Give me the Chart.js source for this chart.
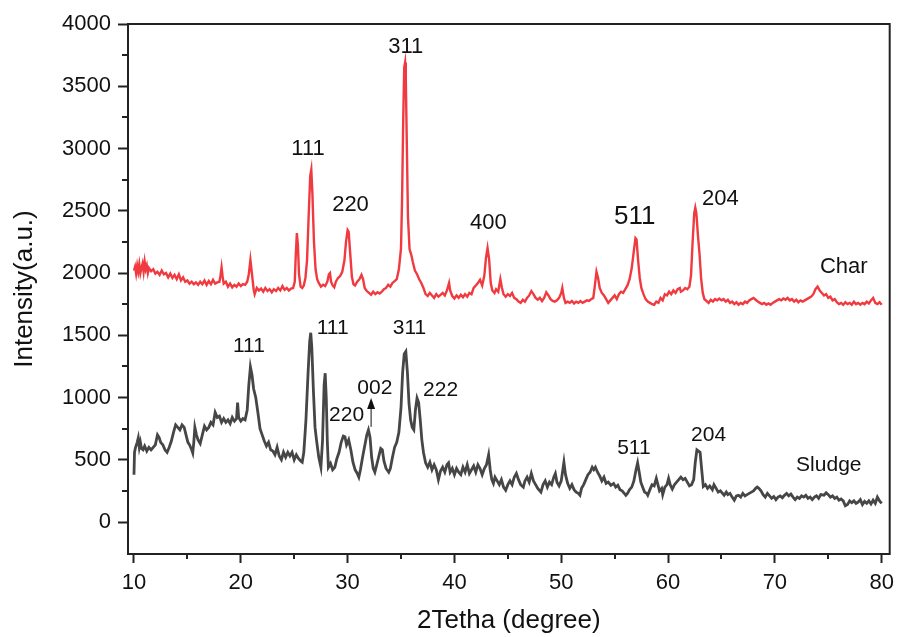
<!DOCTYPE html>
<html>
<head>
<meta charset="utf-8">
<script src="https://cdn.jsdelivr.net/npm/chart.js@4.4.1/dist/chart.umd.min.js"></script>
<style>
  html, body { margin: 0; padding: 0; background: #fff; }
  #wrap { width: 901px; height: 637px; }
</style>
</head>
<body>
<div id="wrap"><canvas id="xrd"></canvas></div>
<script>
// axis ticks
const xTicks = [10, 20, 30, 40, 50, 60, 70, 80];
const xMinor = [15, 25, 35, 45, 55, 65, 75];
const yTicks = [0, 500, 1000, 1500, 2000, 2500, 3000, 3500, 4000];
const yMinor = [250, 750, 1250, 1750, 2250, 2750, 3250, 3750];

// Char pattern (2theta, intensity)
const charX = [10.0,10.1,10.2,10.3,10.4,10.5,10.6,10.7,10.8,10.9,11.0,11.1,11.2,11.3,11.4,11.6,11.8,12.0,12.2,12.4,12.6,12.8,13.0,13.2,13.4,13.6,13.8,14.0,14.2,14.4,14.6,14.8,15.0,15.2,15.4,15.6,15.8,16.0,16.2,16.4,16.6,16.8,17.0,17.2,17.4,17.6,17.8,18.0,18.1,18.2,18.3,18.4,18.6,18.8,19.0,19.2,19.4,19.6,19.8,20.0,20.2,20.4,20.6,20.75,20.9,21.05,21.2,21.3,21.5,21.7,21.9,22.1,22.3,22.5,22.7,22.9,23.1,23.3,23.5,23.7,23.9,24.1,24.3,24.5,24.7,24.9,25.05,25.15,25.25,25.35,25.45,25.6,25.75,25.9,26.05,26.2,26.35,26.5,26.6,26.7,26.85,27.0,27.15,27.3,27.5,27.7,27.9,28.1,28.25,28.35,28.45,28.6,28.75,28.9,29.1,29.3,29.5,29.7,29.85,30.0,30.1,30.25,30.4,30.55,30.7,30.9,31.1,31.3,31.45,31.6,31.8,32.0,32.2,32.4,32.6,32.8,33.0,33.2,33.4,33.6,33.8,34.0,34.2,34.4,34.6,34.8,35.0,35.1,35.2,35.3,35.38,35.45,35.55,35.65,35.8,35.95,36.1,36.3,36.5,36.7,36.9,37.1,37.3,37.5,37.7,37.9,38.1,38.3,38.5,38.7,38.9,39.1,39.3,39.5,39.6,39.8,40.0,40.2,40.4,40.6,40.8,41.0,41.2,41.4,41.6,41.8,42.0,42.2,42.4,42.6,42.8,42.95,43.1,43.25,43.4,43.55,43.75,43.9,44.1,44.3,44.45,44.6,44.8,45.0,45.2,45.4,45.6,45.8,46.0,46.2,46.4,46.6,46.8,47.0,47.2,47.4,47.6,47.8,48.0,48.2,48.4,48.6,48.8,49.0,49.2,49.4,49.6,49.8,50.0,50.1,50.25,50.4,50.6,50.8,51.0,51.2,51.4,51.6,51.8,52.0,52.2,52.4,52.6,52.8,53.0,53.15,53.3,53.45,53.6,53.8,54.0,54.2,54.4,54.6,54.8,55.0,55.2,55.4,55.6,55.8,56.0,56.2,56.4,56.6,56.8,56.95,57.05,57.2,57.35,57.5,57.7,57.9,58.1,58.3,58.5,58.7,58.9,59.1,59.3,59.5,59.7,59.9,60.1,60.3,60.5,60.7,60.9,61.1,61.2,61.4,61.6,61.8,62.0,62.15,62.3,62.45,62.55,62.65,62.8,62.95,63.1,63.25,63.4,63.6,63.8,64.0,64.2,64.4,64.6,64.8,65.0,65.2,65.4,65.6,65.8,66.0,66.2,66.4,66.6,66.8,67.0,67.2,67.4,67.6,67.8,68.0,68.2,68.4,68.6,68.8,69.0,69.2,69.4,69.6,69.8,70.0,70.2,70.4,70.6,70.8,71.0,71.2,71.4,71.6,71.8,72.0,72.2,72.4,72.6,72.8,73.0,73.2,73.4,73.6,73.8,74.0,74.2,74.4,74.6,74.8,75.0,75.2,75.4,75.6,75.8,76.0,76.2,76.4,76.6,76.8,77.0,77.2,77.4,77.6,77.8,78.0,78.2,78.4,78.6,78.8,79.0,79.2,79.4,79.6,79.8,80.0];
const charY = [2020,2050,1995,2060,2010,2070,2000,2040,2075,2010,2090,2030,2060,2000,2040,2015,2030,1995,2010,1985,2020,1990,2000,1965,1995,1960,1985,1950,1990,1940,1965,1930,1940,1915,1930,1910,1925,1905,1930,1910,1940,1905,1935,1910,1945,1915,1925,1930,1980,2045,1970,1915,1930,1890,1915,1885,1905,1890,1915,1895,1910,1905,1930,1990,2105,1990,1870,1830,1880,1860,1875,1850,1880,1855,1870,1845,1870,1855,1880,1860,1895,1865,1880,1860,1875,1880,1930,2150,2320,2220,1990,1890,1880,1900,1960,2100,2450,2780,2830,2650,2250,2030,1950,1920,1890,1905,1895,1930,1990,2000,1930,1900,1885,1930,1960,1975,2010,2100,2250,2345,2330,2150,1970,1910,1900,1930,1950,1985,1950,1880,1855,1840,1825,1850,1830,1845,1835,1850,1870,1880,1905,1890,1920,1935,1950,2030,2200,2600,3200,3650,3690,3550,3000,2450,2190,2150,2090,2020,1990,1950,1920,1880,1830,1815,1840,1820,1800,1830,1810,1825,1840,1820,1860,1920,1860,1815,1795,1820,1800,1825,1805,1830,1810,1840,1830,1880,1900,1920,1945,1900,1980,2120,2200,2110,1920,1860,1840,1870,1850,1950,1880,1830,1810,1830,1815,1840,1800,1790,1770,1760,1785,1770,1800,1820,1855,1830,1800,1785,1800,1775,1800,1845,1820,1790,1775,1770,1780,1800,1840,1880,1800,1760,1770,1760,1775,1755,1770,1760,1775,1760,1770,1780,1775,1790,1800,1900,2010,1960,1880,1840,1820,1790,1760,1780,1800,1820,1790,1830,1850,1840,1870,1900,1950,2040,2180,2280,2270,2100,1960,1880,1830,1790,1770,1760,1750,1745,1770,1760,1800,1780,1830,1820,1850,1830,1860,1840,1870,1880,1850,1860,1880,1870,1890,1980,2250,2480,2525,2480,2300,2150,1950,1840,1790,1775,1760,1785,1770,1790,1780,1795,1780,1790,1770,1785,1760,1770,1750,1765,1745,1760,1750,1770,1760,1780,1790,1800,1785,1770,1760,1750,1760,1745,1755,1745,1760,1770,1780,1790,1780,1795,1785,1800,1780,1790,1770,1785,1765,1780,1770,1780,1790,1800,1810,1830,1870,1890,1860,1840,1820,1830,1800,1810,1780,1790,1765,1750,1760,1745,1765,1750,1760,1745,1770,1750,1760,1745,1760,1750,1770,1755,1780,1800,1760,1750,1765,1745];

// Sludge pattern (2theta, intensity)
const sludgeX = [10.0,10.05,10.15,10.3,10.4,10.5,10.6,10.7,10.85,11.0,11.2,11.4,11.6,11.8,12.0,12.2,12.35,12.5,12.7,12.9,13.1,13.3,13.5,13.7,13.9,14.1,14.3,14.5,14.7,14.9,15.05,15.2,15.4,15.5,15.6,15.7,15.85,16.0,16.2,16.4,16.6,16.8,17.0,17.2,17.4,17.6,17.8,18.0,18.2,18.4,18.6,18.8,19.0,19.2,19.4,19.6,19.7,19.8,20.0,20.2,20.4,20.6,20.75,20.9,21.05,21.2,21.4,21.6,21.8,22.0,22.2,22.4,22.6,22.8,23.0,23.2,23.4,23.6,23.8,24.0,24.2,24.4,24.6,24.8,25.0,25.2,25.4,25.6,25.75,25.9,26.1,26.3,26.45,26.55,26.65,26.8,26.95,27.1,27.3,27.5,27.65,27.8,27.9,28.0,28.1,28.2,28.4,28.6,28.8,29.0,29.2,29.4,29.6,29.75,29.9,30.1,30.3,30.5,30.7,30.9,31.05,31.2,31.4,31.6,31.8,31.95,32.1,32.25,32.4,32.55,32.7,32.9,33.1,33.25,33.4,33.6,33.85,34.0,34.2,34.4,34.6,34.8,35.0,35.15,35.3,35.45,35.6,35.75,35.9,36.05,36.2,36.35,36.5,36.65,36.8,36.95,37.1,37.3,37.5,37.7,37.9,38.1,38.3,38.5,38.7,38.9,39.1,39.3,39.45,39.6,39.8,40.0,40.2,40.4,40.6,40.8,41.0,41.2,41.4,41.6,41.8,42.0,42.2,42.4,42.6,42.8,43.0,43.2,43.35,43.5,43.65,43.8,44.0,44.2,44.4,44.6,44.8,45.0,45.2,45.4,45.6,45.8,46.0,46.2,46.45,46.6,46.8,47.0,47.2,47.4,47.6,47.8,48.1,48.3,48.5,48.7,48.9,49.1,49.3,49.45,49.6,49.8,50.0,50.15,50.25,50.4,50.6,50.8,51.0,51.2,51.4,51.6,51.75,51.9,52.1,52.3,52.5,52.7,52.9,53.05,53.2,53.4,53.6,53.8,54.0,54.2,54.4,54.65,54.9,55.1,55.3,55.5,55.7,55.9,56.05,56.2,56.4,56.6,56.8,57.0,57.15,57.3,57.45,57.6,57.8,58.0,58.1,58.3,58.5,58.7,58.9,59.05,59.2,59.4,59.5,59.7,59.9,60.05,60.2,60.4,60.6,60.8,61.0,61.2,61.4,61.6,61.8,62.0,62.2,62.4,62.55,62.7,62.85,63.0,63.15,63.3,63.5,63.7,63.9,64.15,64.3,64.5,64.7,64.9,65.1,65.25,65.45,65.6,65.8,66.0,66.2,66.4,66.6,66.8,67.0,67.2,67.4,67.6,67.8,68.0,68.2,68.35,68.5,68.7,68.9,69.1,69.3,69.5,69.7,69.9,70.1,70.3,70.5,70.7,70.9,71.1,71.3,71.5,71.7,71.9,72.1,72.3,72.5,72.7,72.9,73.1,73.3,73.5,73.7,73.9,74.1,74.3,74.6,74.8,75.0,75.2,75.4,75.6,75.8,76.0,76.2,76.4,76.6,76.8,77.0,77.2,77.4,77.6,77.8,78.0,78.2,78.4,78.6,78.8,79.0,79.2,79.4,79.6,79.8,80.0];
const sludgeY = [380,560,600,640,675,600,640,590,580,610,570,600,580,600,620,700,680,640,620,580,560,600,650,720,780,760,740,780,760,690,640,620,580,555,640,760,700,660,630,700,770,740,760,800,780,880,840,850,800,830,800,820,790,840,810,830,960,840,810,830,820,900,1100,1245,1180,1070,1000,880,750,700,650,610,640,580,570,540,600,530,500,560,520,560,530,560,500,540,510,490,480,560,820,1200,1450,1520,1400,1050,760,650,520,440,650,1100,1195,1000,650,440,470,420,440,510,560,640,690,685,620,660,580,480,420,390,360,420,520,610,700,740,680,520,430,400,450,520,590,580,490,430,400,430,520,600,640,720,920,1200,1350,1370,1200,950,820,760,740,900,995,960,820,660,560,475,440,480,420,460,420,340,410,440,400,460,475,400,430,380,430,400,380,440,400,460,390,420,450,400,460,430,380,430,460,540,420,340,310,360,330,300,340,280,255,300,330,300,360,390,340,300,280,330,360,320,390,330,300,270,240,300,330,280,320,300,360,390,320,290,330,420,480,380,310,270,300,260,240,230,215,270,300,340,380,400,440,420,440,400,370,330,360,310,320,295,310,280,295,260,250,230,215,230,260,280,330,420,475,400,320,285,240,230,215,260,300,290,350,300,250,270,220,280,300,350,300,265,300,320,340,360,340,350,320,290,300,340,480,580,570,560,420,285,300,270,290,260,300,270,240,250,230,215,240,220,230,200,175,210,215,200,230,210,220,230,240,250,270,280,270,250,220,200,230,210,190,205,180,200,210,195,215,230,210,225,200,180,200,190,210,200,215,190,200,180,200,210,190,220,215,235,220,200,210,190,200,175,185,170,130,140,170,155,170,150,160,180,140,165,150,170,145,175,150,200,170,150];

// peak labels (text, 2theta, intensity at label centre)
const charLabels = ['111', '220', '311', '400', '511', '204', 'Char'];
const charLabelX = [26.3, 30.27, 35.45, 43.18, 56.88, 64.9, 76.45];
const charLabelY = [2996, 2546, 3815, 2402, 2450, 2598, 2052];
const sludgeLabels = ['111', '111', '220', '002', '311', '222', '511', '204', 'Sludge'];
const sludgeLabelX = [20.76, 28.6, 29.9, 32.55, 35.8, 38.7, 56.8, 63.8, 75.05];
const sludgeLabelY = [1410, 1554, 859, 1076, 1558, 1060, 594, 699, 458];
// arrow under the 002 label
const arrowX = 32.2;
const arrowFrom = 764;
const arrowTo = 997;

const FONT = "'Liberation Sans', Arial, sans-serif";
const charLabelSize = [22, 22, 22, 22, 26, 22, 22];

const peakMarks = {
    id: 'peakMarks',
    afterDatasetsDraw(chart) {
        const ctx = chart.ctx;
        const a = chart.chartArea;
        const x = chart.scales.x;
        const y = chart.scales.y;
        ctx.save();

        // box round the plot
        ctx.strokeStyle = '#222';
        ctx.lineWidth = 2;
        ctx.strokeRect(a.left, a.top, a.right - a.left, a.bottom - a.top);

        // minor ticks
        ctx.beginPath();
        for (const v of xMinor) {
            const px = Math.round(x.getPixelForValue(v));
            ctx.moveTo(px, a.bottom);
            ctx.lineTo(px, a.bottom + 5);
        }
        for (const v of yMinor) {
            const py = Math.round(y.getPixelForValue(v));
            ctx.moveTo(a.left, py);
            ctx.lineTo(a.left - 6, py);
        }
        ctx.stroke();

        // labels
        ctx.fillStyle = '#111';
        ctx.textAlign = 'center';
        ctx.textBaseline = 'middle';
        charLabels.forEach((t, i) => {
            ctx.font = charLabelSize[i] + 'px ' + FONT;
            ctx.fillText(t, x.getPixelForValue(charLabelX[i]), y.getPixelForValue(charLabelY[i]));
        });
        ctx.font = '21px ' + FONT;
        sludgeLabels.forEach((t, i) => {
            ctx.fillText(t, x.getPixelForValue(sludgeLabelX[i]), y.getPixelForValue(sludgeLabelY[i]));
        });

        // little arrow
        const ax = x.getPixelForValue(arrowX);
        const y0 = y.getPixelForValue(arrowFrom);
        const y1 = y.getPixelForValue(arrowTo);
        ctx.strokeStyle = '#111';
        ctx.lineWidth = 1;
        ctx.beginPath();
        ctx.moveTo(ax, y0);
        ctx.lineTo(ax, y1 + 8);
        ctx.stroke();
        ctx.beginPath();
        ctx.moveTo(ax, y1);
        ctx.lineTo(ax - 4, y1 + 11);
        ctx.lineTo(ax + 4, y1 + 11);
        ctx.closePath();
        ctx.fill();

        ctx.restore();
    }
};

const toPoints = (xs, ys) => xs.map((v, i) => ({ x: v, y: ys[i] }));

new Chart(document.getElementById('xrd'), {
    type: 'line',
    data: {
        datasets: [{
            label: 'Char',
            data: toPoints(charX, charY),
            borderColor: '#f03a3f',
            borderWidth: 2.4,
            pointRadius: 0,
            tension: 0
        }, {
            label: 'Sludge',
            data: toPoints(sludgeX, sludgeY),
            borderColor: '#464646',
            borderWidth: 2.8,
            pointRadius: 0,
            tension: 0
        }]
    },
    options: {
        responsive: true,
        maintainAspectRatio: false,
        animation: false,
        events: [],
        layout: { padding: { top: 24, right: 8, left: 0, bottom: 0 } },
        plugins: {
            legend: { display: false },
            tooltip: { enabled: false }
        },
        scales: {
            x: {
                type: 'linear',
                min: 9.44,
                max: 80.75,
                afterBuildTicks: s => { s.ticks = xTicks.map(v => ({ value: v })); },
                afterFit: s => { s.height = 83; },
                ticks: {
                    color: '#111',
                    font: { family: FONT, size: 22 },
                    padding: 7,
                    maxRotation: 0,
                    autoSkip: false,
                    callback: v => String(v)
                },
                grid: { drawOnChartArea: false, tickLength: 9, tickColor: '#222', tickWidth: 2 },
                border: { display: false },
                title: {
                    display: true,
                    text: '2Tetha (degree)',
                    color: '#111',
                    font: { family: FONT, size: 26 },
                    padding: { top: 2, bottom: 1 }
                }
            },
            y: {
                min: -257,
                max: 4000,
                afterBuildTicks: s => { s.ticks = yTicks.map(v => ({ value: v })); },
                afterFit: s => { s.width = 128; },
                ticks: {
                    color: '#111',
                    font: { family: FONT, size: 22 },
                    padding: 7,
                    autoSkip: false,
                    callback: v => String(v)
                },
                grid: { drawOnChartArea: false, tickLength: 10, tickColor: '#222', tickWidth: 2 },
                border: { display: false },
                title: {
                    display: true,
                    text: 'Intensity(a.u.)',
                    color: '#111',
                    font: { family: FONT, size: 26 },
                    padding: { top: 9, bottom: 0 }
                }
            }
        }
    },
    plugins: [peakMarks]
});
</script>
</body>
</html>
